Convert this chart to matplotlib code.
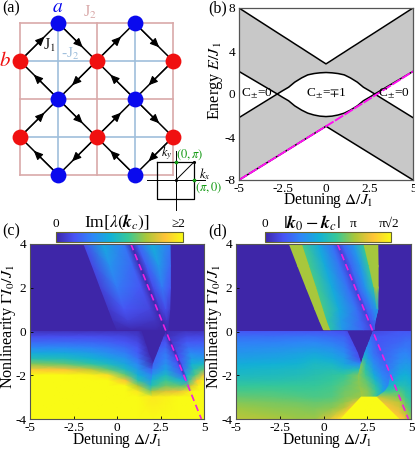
import numpy as np
import matplotlib
matplotlib.use('Agg')
import matplotlib.pyplot as plt
from matplotlib.colors import LinearSegmentedColormap, Normalize
from matplotlib.cm import ScalarMappable

plt.rcParams['font.family'] = ['Liberation Serif', 'DejaVu Sans']
plt.rcParams['mathtext.fontset'] = 'stix'
plt.rcParams['axes.unicode_minus'] = False

W, H = 415, 449

# lattice of panel (a), in lattice units
a_x = [1, 3, 1, 3, 1, 3]
a_y = [4, 4, 2, 2, 0, 0]
b_x = [0, 2, 4, 0, 2, 4]
b_y = [3, 3, 3, 1, 1, 1]
hop_edges = [((0, 3), (1, 4)), ((1, 4), (2, 3)), ((2, 3), (3, 4)), ((3, 4), (4, 3)),
             ((2, 3), (1, 2)), ((1, 2), (0, 3)), ((3, 2), (2, 3)), ((4, 3), (3, 2)),
             ((1, 2), (2, 1)), ((0, 1), (1, 2)), ((2, 1), (3, 2)), ((3, 2), (4, 1)),
             ((1, 0), (0, 1)), ((2, 1), (1, 0)), ((3, 0), (2, 1)), ((4, 1), (3, 0))]

# band edges of panel (b)
band_delta = [-5, -2.8, -2.5, -2.15, -1.8, -1.4, -1.05, -0.7, -0.35, 0, 0.35, 0.7, 1.05, 1.4, 1.8, 2.15, 2.5, 2.8, 5]
band_top = [8, 5.71, 5.4, 5.04, 4.67, 4.26, 3.89, 3.53, 3.16, 2.8, 3.16, 3.53, 3.89, 4.26, 4.67, 5.04, 5.4, 5.71, 8]
band_upper_low = [2.1, 0, 0.3, 0.63, 1.1, 1.5, 1.78, 1.9, 1.97, 2.0, 1.97, 1.9, 1.78, 1.5, 1.1, 0.63, 0.3, 0, 2.1]
band_lower_high = [-2.2, 0, -0.3, -0.63, -1.1, -1.5, -1.78, -1.95, -2.06, -2.1, -2.06, -1.95, -1.78, -1.5, -1.1, -0.63, -0.3, 0, -2.2]
band_bottom = [-8, -5.8, -5.5, -5.15, -4.8, -4.4, -4.05, -3.7, -3.35, -3, -3.35, -3.7, -4.05, -4.4, -4.8, -5.15, -5.5, -5.8, -8]
edge_mode_delta = [-5, 0, 0.6, 5]
edge_mode_energy = [-8, -3, -2.4, 2.1]

# instability threshold line of (c) and (d)
line_delta = [0.8, 4.85]
line_gamma = [4, -4]

# (c) growth rate, Gamma > 0 wedge
c_up_gamma = [4, 3, 2, 1, 0.5, 0.08]
c_up_delta = [[-1.9, -0.8, 0.4, 0.82, 1.2, 2.0, 3.05],
              [-1.42, -0.4, 0.9, 1.33, 1.7, 2.4, 3.07],
              [-0.95, 0, 1.4, 1.82, 2.1, 2.6, 3.07],
              [-0.47, 0.4, 1.9, 2.33, 2.5, 2.8, 3.03],
              [-0.23, 0.6, 2.2, 2.58, 2.7, 2.85, 2.97],
              [0, 0.8, 2.3, 2.8, 2.85, 2.88, 2.92]]
c_up_val = [[0.25, 0.8, 0.5, 0.02, 0.4, 0.85, 0.5],
            [0.22, 0.65, 0.4, 0.02, 0.35, 0.7, 0.4],
            [0.18, 0.5, 0.3, 0.02, 0.25, 0.5, 0.3],
            [0.12, 0.3, 0.2, 0.02, 0.15, 0.25, 0.15],
            [0.08, 0.18, 0.1, 0.02, 0.08, 0.12, 0.08],
            [0.02, 0.03, 0.02, 0.0, 0.02, 0.02, 0.02]]

# (c) Gamma < 0, left of the dark wedge
c_low_gamma = [0, -0.25, -0.5, -0.75, -1, -1.25, -1.5, -1.75, -2, -2.25, -2.5, -2.75, -3, -4]
c_left_edge = [1.4, 1.5, 1.6, 1.72, 1.8, 1.95, 2.08, 2.05, 2.05, 2.0, 2.0, 2.0, 2.05, 2.05]
c_left_cols = [-5, -3, -1.5, -0.5, 0.5, 1.2]
c_left_val = [[0.1, 0.1, 0.1, 0.1, 0.1, 0.08, 0.02],
              [0.27, 0.27, 0.27, 0.25, 0.22, 0.15, 0.05],
              [0.42, 0.42, 0.4, 0.36, 0.3, 0.22, 0.05],
              [0.6, 0.6, 0.55, 0.5, 0.42, 0.3, 0.05],
              [0.82, 0.8, 0.72, 0.62, 0.52, 0.35, 0.05],
              [1.02, 0.98, 0.88, 0.78, 0.65, 0.45, 0.05],
              [1.35, 1.25, 1.1, 0.95, 0.78, 0.58, 0.05],
              [1.75, 1.7, 1.5, 1.25, 0.95, 0.7, 0.35],
              [2, 2, 1.95, 1.85, 1.25, 0.85, 0.55],
              [2, 2, 2, 2, 1.7, 1.05, 0.7],
              [2, 2, 2, 2, 2, 1.45, 0.9],
              [2, 2, 2, 2, 2, 1.9, 1.3],
              [2, 2, 2, 2, 2, 2, 1.9],
              [2, 2, 2, 2, 2, 2, 2]]

# (c) Gamma < 0, right of the dark wedge
c_right_delta = [[2.85, 2.85, 2.85, 2.85, 2.88, 3.9, 5],
                 [2.7, 2.8, 2.9, 2.98, 3.05, 4, 5],
                 [2.58, 2.8, 3, 3.1, 3.2, 4, 5],
                 [2.45, 2.8, 3.13, 3.23, 3.35, 4.1, 5],
                 [2.33, 2.8, 3.25, 3.36, 3.5, 4.2, 5],
                 [2.2, 2.8, 3.38, 3.49, 3.6, 4.3, 5],
                 [2.08, 2.8, 3.5, 3.62, 3.75, 4.3, 5],
                 [2.05, 2.8, 3.62, 3.74, 3.87, 4.4, 5],
                 [2.05, 2.8, 3.75, 3.87, 4, 4.5, 5],
                 [2.0, 2.8, 3.85, 4, 4.12, 4.6, 5],
                 [2.0, 2.8, 3.6, 4.1, 4.25, 4.7, 5],
                 [2.0, 2.8, 3.5, 4.2, 4.4, 4.8, 5],
                 [2.05, 2.8, 3.5, 4.2, 4.4, 4.8, 5],
                 [2.05, 2.8, 3.5, 4.2, 4.4, 4.8, 5]]
c_right_val = [[0, 0, 0, 0, 0.04, 0.1, 0.1],
               [0.2, 0.2, 0.1, 0.02, 0.1, 0.22, 0.22],
               [0.28, 0.3, 0.12, 0.02, 0.15, 0.33, 0.33],
               [0.35, 0.4, 0.15, 0.03, 0.2, 0.45, 0.45],
               [0.4, 0.5, 0.2, 0.03, 0.25, 0.6, 0.55],
               [0.4, 0.55, 0.25, 0.04, 0.3, 0.72, 0.7],
               [0.4, 0.65, 0.3, 0.05, 0.35, 0.85, 0.95],
               [0.5, 0.75, 0.35, 0.08, 0.5, 1.0, 1.25],
               [0.7, 0.95, 0.45, 0.12, 0.8, 1.2, 1.7],
               [0.9, 1.15, 0.85, 0.6, 1.1, 1.7, 2],
               [1.05, 1.3, 1.25, 1.3, 1.6, 1.95, 2],
               [1.45, 1.6, 1.65, 1.9, 2, 2, 2],
               [1.9, 1.95, 2, 2, 2, 2, 2],
               [2, 2, 2, 2, 2, 2, 2]]

# (d) wavevector distance, Gamma > 0 wedge
d_up_gamma = [4, 3, 2, 1, 0.5, 0.08]
d_up_delta = [[-1.95, -1.23, -1.2, -0.3, 0.5, 0.82, 1.1, 1.7, 2.28, 2.32, 3.1],
              [-1.47, -0.82, -0.79, 0.1, 0.95, 1.33, 1.6, 2.1, 2.58, 2.62, 3.12],
              [-0.98, -0.41, -0.38, 0.5, 1.4, 1.82, 2.0, 2.4, 2.86, 2.9, 3.12],
              [-0.48, -0.02, 0.01, 0.9, 1.9, 2.33, 2.5, 2.75, 3.05, 3.08, 3.1],
              [-0.23, 0.18, 0.21, 1.0, 2.1, 2.58, 2.7, 2.8, 2.9, 2.92, 2.95],
              [0, 0.38, 0.41, 1.1, 2.3, 2.8, 2.83, 2.85, 2.86, 2.87, 2.88]]
d_up_val = [[3.14, 3.14, 2.6, 1.8, 1.0, 0.4, 0.9, 1.5, 2.5, 3.14, 3.14],
            [3.14, 3.14, 2.6, 1.8, 1.0, 0.4, 0.9, 1.5, 2.5, 3.1, 3.14],
            [3.14, 3.14, 2.6, 1.8, 1.0, 0.4, 0.9, 1.5, 2.4, 3.1, 3.14],
            [3.14, 3.14, 2.6, 1.8, 1.0, 0.4, 0.8, 1.1, 1.6, 1.7, 1.7],
            [3.14, 3.14, 2.4, 1.6, 0.9, 0.4, 0.7, 0.8, 1, 1, 1],
            [3.14, 3.14, 2.3, 1.5, 0.8, 0.4, 0.5, 0.5, 0.5, 0.5, 0.5]]

# (d) Gamma < 0, left of wedge and dome
d_left_gamma = [0, -0.25, -0.5, -0.75, -1, -1.25, -1.5, -1.75, -2, -2.25, -2.5, -2.75, -3, -3.25, -3.5, -4]
d_left_delta = [[-5, -3, -1.5, -0.5, 0.5, 1.2, 1.35],
                [-5, -3, -1.5, -0.5, 0.5, 1.2, 1.5],
                [-5, -3, -1.5, -0.5, 0.5, 1.2, 1.65],
                [-5, -3, -1.5, -0.5, 0.5, 1.2, 1.8],
                [-5, -3, -1.5, -0.5, 0.5, 1.2, 1.95],
                [-5, -3, -1.5, -0.5, 0.5, 1.2, 2.05],
                [-5, -3, -1.5, -0.5, 0.5, 1.2, 2.15],
                [-5, -3, -1.5, -0.5, 0.5, 1.2, 2.08],
                [-5, -3, -1.5, -0.5, 0.5, 1.2, 2.0],
                [-5, -3, -1.5, -0.5, 0.5, 1.2, 2.0],
                [-5, -3, -1.5, -0.5, 0.5, 1.2, 2.05],
                [-5, -3, -1.5, -0.5, 0.5, 1.2, 2.15],
                [-5, -3, -1.5, -0.5, 0.5, 1.2, 2.18],
                [-5, -3, -1.5, -0.5, 0.5, 1.2, 1.87],
                [-5, -3, -1.5, -0.5, 0.5, 1.2, 1.58],
                [-5, -3, -1.5, -0.5, 0.3, 0.7, 1.0]]
d_left_val = [[0.7, 0.7, 0.7, 0.7, 0.7, 0.6, 0.5],
              [1.0, 1.0, 1.05, 1.05, 0.95, 0.85, 0.6],
              [1.2, 1.2, 1.25, 1.3, 1.15, 1.0, 0.6],
              [1.35, 1.4, 1.45, 1.5, 1.4, 1.15, 0.6],
              [1.5, 1.55, 1.65, 1.75, 1.6, 1.35, 0.6],
              [1.65, 1.7, 1.8, 1.95, 1.8, 1.55, 0.6],
              [1.85, 1.9, 1.95, 2.1, 2.05, 1.75, 1.3],
              [2.0, 2.05, 2.1, 2.2, 2.25, 2.1, 2.3],
              [2.1, 2.15, 2.2, 2.3, 2.4, 2.5, 2.9],
              [2.3, 2.3, 2.35, 2.4, 2.5, 2.65, 2.95],
              [2.5, 2.5, 2.5, 2.5, 2.6, 2.75, 3],
              [2.65, 2.65, 2.6, 2.6, 2.65, 2.85, 3.0],
              [2.8, 2.75, 2.7, 2.65, 2.7, 2.9, 3.1],
              [2.95, 2.9, 2.85, 2.8, 2.85, 3.05, 3.6],
              [3.1, 3.0, 2.95, 2.9, 3.0, 3.3, 3.8],
              [3.3, 3.2, 3.1, 3.1, 3.5, 4.0, 4.2]]

# (d) dome between the wedge and the threshold line
d_dome_gamma = [0, -0.25, -0.5, -0.75, -1, -1.25, -1.5, -1.75, -2, -2.25, -2.5, -2.75, -3]
d_dome_delta = [[2.85, 2.85, 2.85, 2.85, 2.85],
                [2.72, 2.78, 2.84, 2.9, 2.98],
                [2.6, 2.72, 2.85, 3.0, 3.1],
                [2.47, 2.65, 2.85, 3.05, 3.23],
                [2.35, 2.6, 2.85, 3.1, 3.36],
                [2.25, 2.55, 2.85, 3.2, 3.49],
                [2.15, 2.45, 2.85, 3.25, 3.62],
                [2.08, 2.4, 2.85, 3.3, 3.74],
                [2.0, 2.4, 2.9, 3.35, 3.83],
                [2.0, 2.45, 2.95, 3.4, 3.78],
                [2.05, 2.5, 3.0, 3.4, 3.72],
                [2.15, 2.55, 3.0, 3.35, 3.5],
                [2.18, 2.5, 2.8, 3.0, 3.1]]
d_dome_val = [[0.5, 0.5, 0.5, 0.5, 0.5],
              [1.0, 0.9, 0.8, 0.7, 0.6],
              [1.2, 1.05, 0.9, 0.75, 0.6],
              [1.4, 1.2, 1, 0.8, 0.6],
              [1.7, 1.35, 1.05, 0.85, 0.6],
              [2.2, 1.6, 1.2, 0.95, 0.7],
              [2.9, 2.1, 1.4, 1.05, 0.8],
              [3, 2.4, 1.6, 1.15, 0.9],
              [3, 2.6, 1.8, 1.25, 1.0],
              [3, 2.75, 2.05, 1.4, 1.1],
              [3, 2.85, 2.3, 1.6, 1.2],
              [3.1, 2.95, 2.5, 1.8, 1.4],
              [3.1, 3, 2.8, 2.5, 2.0]]

# (d) Gamma < 0, right of dome and yellow patch
d_right_gamma = [0, -0.25, -0.5, -0.75, -1, -1.25, -1.5, -1.75, -2, -2.25, -2.5, -2.75, -3, -3.25, -3.5, -3.75, -4]
d_right_edge = [2.85, 2.98, 3.1, 3.23, 3.36, 3.49, 3.62, 3.74, 3.83, 3.78, 3.72, 3.5, 3.05, 3.33, 3.65, 3.97, 4.3]
d_right_cols = [4.35, 4.7, 5]
d_right_val = [[0.5, 0.7, 0.7, 0.7], [0.7, 0.8, 0.85, 0.85], [0.7, 0.9, 1, 1],
               [0.75, 1.05, 1.1, 1.05], [0.8, 1.2, 1.25, 1.15], [0.9, 1.3, 1.4, 1.3],
               [1.0, 1.45, 1.55, 1.5], [1.15, 1.6, 1.7, 1.6], [1.3, 1.8, 1.9, 1.75],
               [1.6, 2.0, 2.05, 1.9], [2.0, 2.3, 2.2, 2.05], [2.5, 2.7, 2.4, 2.2],
               [3.4, 2.9, 2.55, 2.3], [3.7, 3.3, 2.75, 2.45], [3.8, 3.5, 2.95, 2.6],
               [3.9, 3.7, 3.3, 2.8], [4.0, 3.8, 3.5, 3.0]]

# (d) saturated patch at the bottom
d_patch_gamma = [-3, -4]
d_patch_delta = [[2.16, 3.02], [1.0, 4.3]]
d_patch_val = [[4.44, 4.44], [4.44, 4.44]]

parula = LinearSegmentedColormap.from_list('parula', [
    (0.2422, 0.1504, 0.6603), (0.2810, 0.3228, 0.9579), (0.1786, 0.5289, 0.9682),
    (0.0689, 0.6948, 0.8394), (0.2161, 0.7843, 0.5923), (0.6720, 0.7793, 0.2227),
    (0.9970, 0.7659, 0.2199), (0.9769, 0.9839, 0.0805)])
dark = parula(0.0)
frame_col = '#555555'


def px_axes(fig, left, top, right, bottom):
    return fig.add_axes([left / W, 1 - bottom / H, (right - left) / W, (bottom - top) / H])


def mesh(ax, gamma, delta, val, vmax):
    delta = np.array(delta, dtype=float)
    val = np.array(val, dtype=float)
    yy = np.repeat(np.array(gamma, dtype=float)[:, None], delta.shape[1], axis=1)
    ax.pcolormesh(delta, yy, val, shading='gouraud', cmap=parula, vmin=0, vmax=vmax)


def style_labels(ax, xlab, ylab):
    ax.set_xlabel(r'Detuning $\Delta/J_1$', fontsize=11.2, va='center')
    ax.xaxis.set_label_coords(*xlab)
    ax.set_ylabel(ylab[2], fontsize=11.6, va='center')
    ax.yaxis.set_label_coords(ylab[0], ylab[1])


def style_map(ax, xlab, ylab):
    ax.set_facecolor(dark)
    ax.set_xlim(-5, 5)
    ax.set_ylim(-4, 4)
    ax.set_xticks([-5, -2.5, 0, 2.5, 5])
    ax.set_xticklabels(['-5', '-2.5', '0', '2.5', '5'])
    ax.set_yticks([-4, -2, 0, 2, 4])
    ax.tick_params(labelsize=9.5, length=2, width=0.6, direction='in', pad=2.5, top=False, right=False)
    style_labels(ax, xlab, ylab)
    for s in ax.spines.values():
        s.set_color(frame_col)
        s.set_linewidth(0.8)
    ax.plot(line_delta, line_gamma, color='#f020e0', lw=1.2, dashes=(4, 2.5), clip_on=True)


def colorbar(fig, left, right, vmax):
    cax = px_axes(fig, left, 232, right, 242)
    cb = fig.colorbar(ScalarMappable(Normalize(0, vmax), parula), cax=cax, orientation='horizontal')
    cb.set_ticks([])
    cb.outline.set_edgecolor('#666633')
    cb.outline.set_linewidth(0.8)
    return cax


fig = plt.figure(figsize=(W / 100, H / 100), dpi=100)

# panel (a): lattice units mapped so that x=0 is at 20 px, y=0 at 175 px
overlay = fig.add_axes([0, 0, 1, 1])
overlay.set_xlim(0, W)
overlay.set_ylim(H, 0)
overlay.axis('off')
ux, uy = 38.25, 38.0
to_x = lambda v: 20 + ux * np.asarray(v, dtype=float)
to_y = lambda v: 175 - uy * np.asarray(v, dtype=float)

pink = '#d9a9a9'
blue_line = '#9fbfdc'
for v in [0, 2, 4]:
    overlay.plot(to_x([v, v]), to_y([0, 4]), color=pink, lw=1.2, zorder=1)
    overlay.plot(to_x([0, 4]), to_y([v, v]), color=pink, lw=1.2, zorder=1)
for v in [1, 3]:
    overlay.plot(to_x([v, v]), to_y([0, 4]), color=blue_line, lw=1.2, zorder=1.1)
    overlay.plot(to_x([0, 4]), to_y([v, v]), color=blue_line, lw=1.2, zorder=1.1)
for (p, q) in hop_edges:
    overlay.plot(to_x([p[0], q[0]]), to_y([p[1], q[1]]), color='black', lw=1.1, zorder=2)
    tip = (p[0] + 0.64 * (q[0] - p[0]), p[1] + 0.64 * (q[1] - p[1]))
    overlay.annotate('', xy=(to_x(tip[0]), to_y(tip[1])), xytext=(to_x(p[0]), to_y(p[1])),
                     arrowprops=dict(arrowstyle='-|>,head_length=0.55,head_width=0.25', color='black', lw=0.8,
                                     shrinkA=0, shrinkB=0), zorder=2)
overlay.scatter(to_x(a_x), to_y(a_y), s=130, color='#0a0aee', zorder=3, linewidths=0)
overlay.scatter(to_x(b_x), to_y(b_y), s=130, color='#f01010', zorder=3, linewidths=0)

overlay.text(2, 8, '(a)', fontsize=11.5, va='center')
overlay.text(58, 8, r'$a$', fontsize=14, color='#0a0aee', ha='center', va='center')
overlay.text(5, 61, r'$b$', fontsize=15, color='#f01010', ha='center', va='center')
overlay.text(90, 12, r'J$_2$', fontsize=11.5, color=pink, ha='center', va='center')
overlay.text(49, 45, r'J$_1$', fontsize=11.5, color='#222222', ha='center', va='center')
overlay.text(70, 54, r'-J$_2$', fontsize=11, color=blue_line, ha='center', va='center')

# Brillouin zone sketch
bz_x = [157, 194, 194, 157, 157]
bz_y = [162, 162, 199, 199, 162]
overlay.plot(bz_x, bz_y, color='black', lw=0.9, zorder=4)
overlay.plot([147, 205], [180, 180], color='black', lw=0.7, zorder=4)
overlay.plot([176, 176], [151, 210], color='black', lw=0.7, zorder=4)
overlay.plot([176, 194], [180, 162], color='black', lw=0.7, zorder=4)
overlay.scatter([176, 194], [180, 162], s=5, color='black', zorder=5, linewidths=0)
overlay.scatter([176, 194], [162, 180], s=7, color='#119911', zorder=5, linewidths=0)
overlay.text(167, 153, r'$k_y$', fontsize=9, ha='center', va='center', zorder=6)
overlay.text(205, 174, r'$k_x$', fontsize=9, ha='center', va='center', zorder=6)
overlay.text(190, 155, r'$(0,\pi)$', fontsize=9, color='#119911', ha='center', va='center', zorder=6)
overlay.text(209, 188, r'$(\pi,0)$', fontsize=9, color='#119911', ha='center', va='center', zorder=6)

# panel (b)
ax_b = px_axes(fig, 239, 8, 413, 180)
ax_b.patch.set_alpha(0)
ax_b.fill_between(band_delta, band_upper_low, band_top, color='#c8c8c8', lw=0)
ax_b.fill_between(band_delta, band_bottom, band_lower_high, color='#c8c8c8', lw=0)
for curve in [band_top, band_upper_low, band_lower_high, band_bottom]:
    ax_b.plot(band_delta, curve, color='black', lw=1.1)
ax_b.plot(edge_mode_delta, edge_mode_energy, color='#ff10f0', lw=1.4, dashes=(5, 0.8))
ax_b.set_xlim(-5, 5)
ax_b.set_ylim(-8, 8)
ax_b.set_xticks([-5, -2.5, 0, 2.5, 5])
ax_b.set_xticklabels(['-5', '-2.5', '0', '2.5', '5'])
ax_b.set_yticks([-8, -4, 0, 4, 8])
ax_b.tick_params(labelsize=9.5, length=0, pad=2.5)
style_labels(ax_b, (0.51, -0.122), (-0.135, 0.575, r'Energy $E/J_1$'))
for s in ax_b.spines.values():
    s.set_color(frame_col)
    s.set_linewidth(0.9)
ax_b.text(-3.95, 0, r'C$_{\pm}$=0', fontsize=9.5, ha='center', va='center')
ax_b.text(0, 0, r'C$_{\pm}$=$\mp$1', fontsize=9.5, ha='center', va='center')
ax_b.text(3.9, 0, r'C$_{\pm}$=0', fontsize=9.5, ha='center', va='center')
overlay.text(208, 8, '(b)', fontsize=11.5, va='center')

# panel (c)
ax_c = px_axes(fig, 30, 244, 204, 419)
mesh(ax_c, c_up_gamma, c_up_delta, c_up_val, 2)
c_left_delta = [c_left_cols + [e] for e in c_left_edge]
mesh(ax_c, c_low_gamma, c_left_delta, c_left_val, 2)
mesh(ax_c, c_low_gamma, c_right_delta, c_right_val, 2)
style_map(ax_c, (0.5, -0.122), (-0.127, 0.53, r'Nonlinearity $\Gamma I_0/J_1$'))
colorbar(fig, 56, 183, 2)
overlay.text(2, 231, '(c)', fontsize=11.5, va='center')
overlay.text(56, 224, '0', fontsize=9.5, ha='center', va='center')
overlay.text(117, 222, r'Im$[\lambda(\mathbfit{k}_{c})]$', fontsize=12.5, ha='center', va='center')
overlay.text(178, 224, '≥2', fontsize=9.5, ha='center', va='center')

# panel (d)
ax_d = px_axes(fig, 236, 244, 411, 419)
mesh(ax_d, d_up_gamma, d_up_delta, d_up_val, 4.44)
mesh(ax_d, d_left_gamma, d_left_delta, d_left_val, 4.44)
mesh(ax_d, d_dome_gamma, d_dome_delta, d_dome_val, 4.44)
d_right_delta = [[e, max(e + 0.3, d_right_cols[0]), d_right_cols[1], d_right_cols[2]] for e in d_right_edge]
mesh(ax_d, d_right_gamma, d_right_delta, d_right_val, 4.44)
mesh(ax_d, d_patch_gamma, d_patch_delta, d_patch_val, 4.44)
style_map(ax_d, (0.52, -0.122), (-0.127, 0.53, r'Nonlinearity $\Gamma I_0/J_1$'))
colorbar(fig, 265, 391, 4.44)
overlay.text(208, 231, '(d)', fontsize=11.5, va='center')
overlay.text(265, 224, '0', fontsize=9.5, ha='center', va='center')
overlay.text(312, 223, r'$|\mathbfit{k}_0-\mathbfit{k}_c|$', fontsize=13, ha='center', va='center')
overlay.text(353, 224, 'π', fontsize=9.5, ha='center', va='center')
overlay.text(389, 224, 'π√2', fontsize=9.5, ha='center', va='center')

overlay.set_zorder(10)
overlay.patch.set_alpha(0)

fig.savefig('out.png', dpi=100)
